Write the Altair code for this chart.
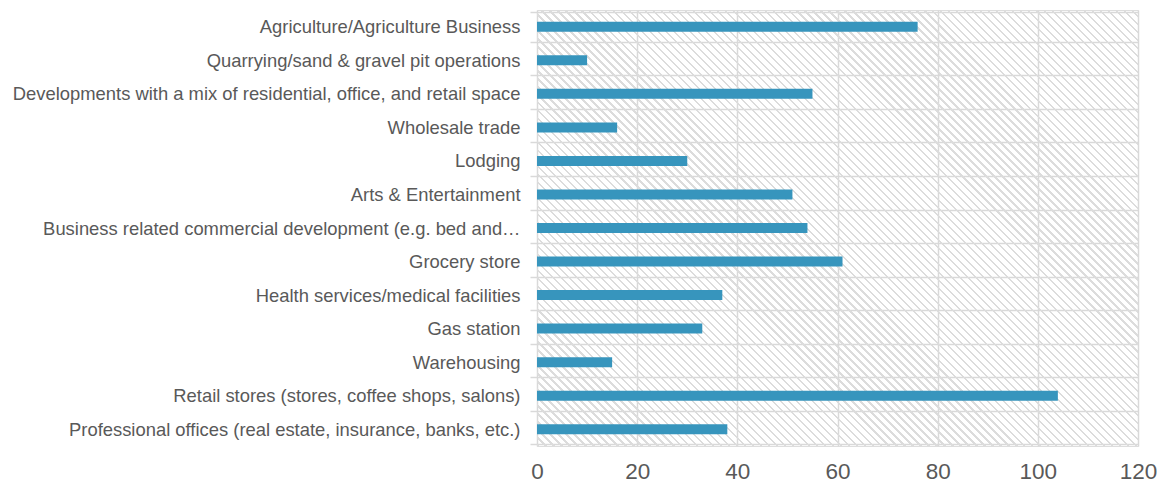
import altair as alt
import pandas as pd

categories = [
    "Agriculture/Agriculture Business",
    "Quarrying/sand & gravel pit operations",
    "Developments with a mix of residential, office, and retail space",
    "Wholesale trade",
    "Lodging",
    "Arts & Entertainment",
    "Business related commercial development (e.g. bed and\u2026",
    "Grocery store",
    "Health services/medical facilities",
    "Gas station",
    "Warehousing",
    "Retail stores (stores, coffee shops, salons)",
    "Professional offices (real estate, insurance, banks, etc.)",
]
values = [76, 10, 55, 16, 30, 51, 54, 61, 37, 33, 15, 104, 38]
x_ticks = [0, 20, 40, 60, 80, 100, 120]

W, H = 601, 436
df = pd.DataFrame({"category": categories, "value": values})

# diagonal hatch background built as a striped linear gradient
r = H / W
span = (1 + r) / (1 + r * r)
n_stripes = 130
line_frac = 0.3
stops = []
for i in range(n_stripes):
    a = i / n_stripes
    b = (i + line_frac) / n_stripes
    c = (i + 1) / n_stripes
    stops += [
        alt.GradientStop(offset=a, color="#dcdcdc"),
        alt.GradientStop(offset=b, color="#dcdcdc"),
        alt.GradientStop(offset=b, color="rgba(255,255,255,0)"),
        alt.GradientStop(offset=c, color="rgba(255,255,255,0)"),
    ]
hatch_fill = alt.LinearGradient(
    gradient="linear", stops=stops, x1=0, y1=1, x2=span, y2=1 - span * r
)

label_font = "Liberation Sans"
text_color = "#595959"
grid_color = "#d9d9d9"

x_scale = alt.Scale(domain=[0, 120], nice=False, zero=True)

hatch = alt.Chart(pd.DataFrame({"lo": [0], "hi": [120]})).mark_rect(
    fill=hatch_fill
).encode(
    x=alt.X("lo:Q", scale=x_scale),
    x2="hi:Q",
)

bars = alt.Chart(df).mark_bar(color="#3795bd", size=10).encode(
    x=alt.X(
        "value:Q",
        scale=x_scale,
        axis=alt.Axis(
            values=x_ticks,
            title=None,
            grid=True,
            gridColor=grid_color,
            gridWidth=1.5,
            ticks=False,
            domain=False,
            labelFont=label_font,
            labelFontSize=22.5,
            labelColor=text_color,
            labelPadding=14,
            labelFlush=False,
        ),
    ),
    y=alt.Y(
        "category:N",
        sort=categories,
        title=None,
        axis=alt.Axis(
            grid=True,
            gridColor=grid_color,
            gridWidth=1.5,
            tickBand="extent",
            ticks=True,
            tickSize=7,
            tickColor=grid_color,
            tickWidth=1.5,
            domain=False,
            labelFont=label_font,
            labelFontSize=18.4,
            labelColor=text_color,
            labelPadding=10,
            labelLimit=0,
        ),
    ),
)

chart = alt.layer(hatch, bars).properties(
    width=W,
    height=H,
    autosize=alt.AutoSizeParams(type="none"),
    padding={"left": 529, "top": 2, "right": 19, "bottom": 37},
).configure_view(
    stroke=grid_color, strokeWidth=1.5
).configure(background="white")

chart.save("out.html", embed_options={"renderer": "svg", "actions": False})
